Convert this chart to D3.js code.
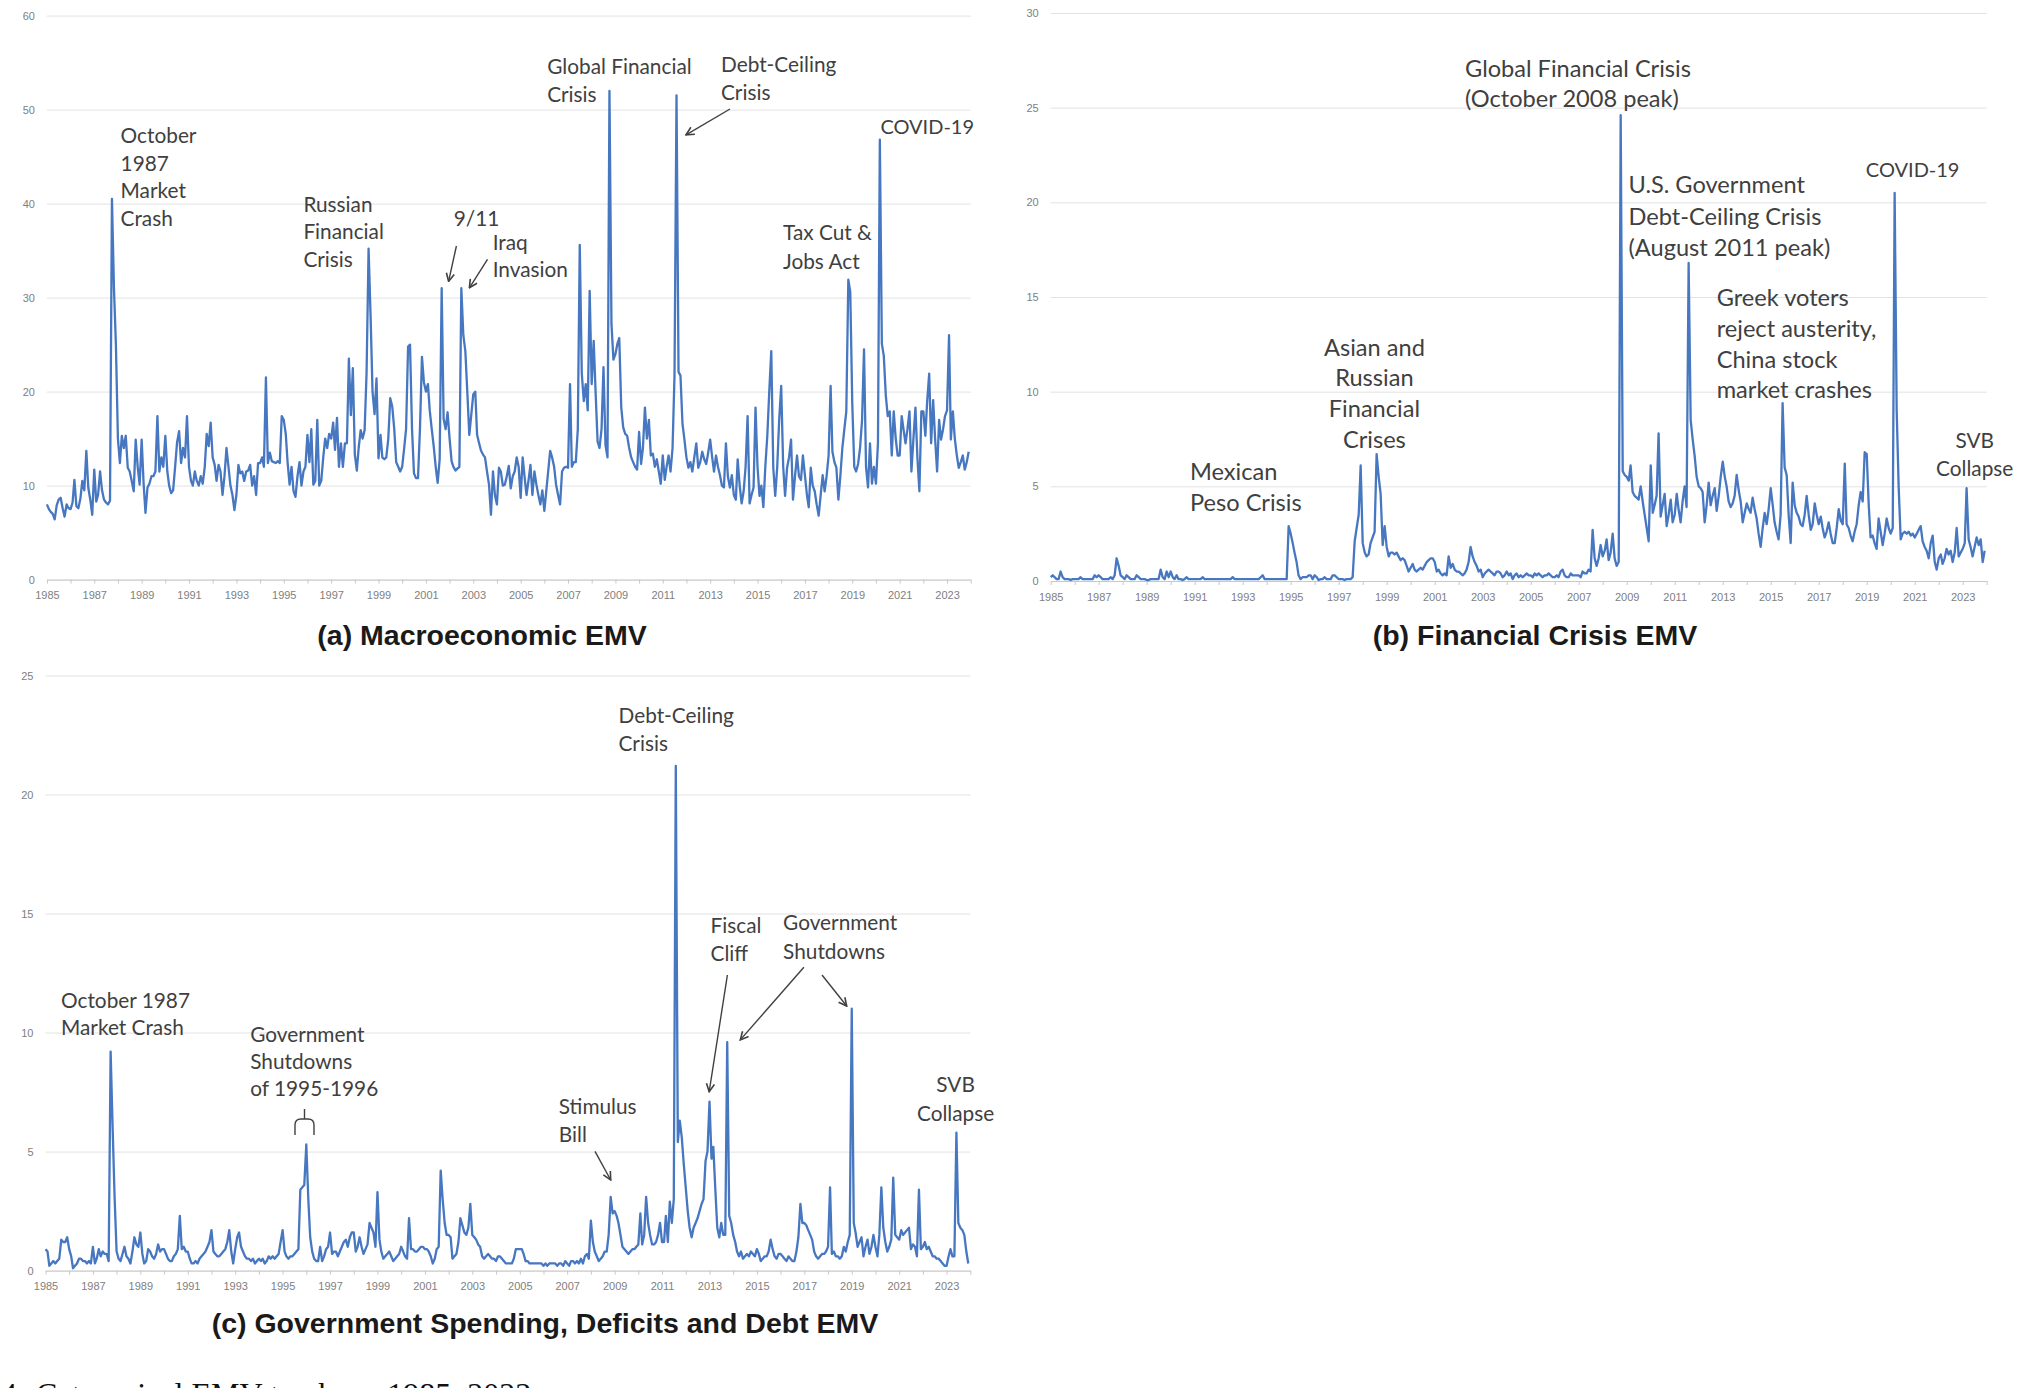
<!DOCTYPE html>
<html>
<head>
<meta charset="utf-8">
<script src="https://cdn.jsdelivr.net/npm/d3@7"></script>
<style>
  body { margin: 0; background: #fff; }
  svg { display: block; }
  .tick text { font-family: "Liberation Sans", Arial, sans-serif; font-size: 11px; fill: #808080; }
  .note { font-family: Lato, "Open Sans", sans-serif; fill: #404040; }
  .ptitle { font-family: "Liberation Sans", Arial, sans-serif; font-weight: bold; font-size: 28.5px; fill: #1a1a1a; }
</style>
</head>
<body>
<script>
// monthly EMV trackers, Jan 1985 .. Dec 2023, one row per year

const macroEmv = [
  8, 7.5, 7.2, 7, 6.4, 7.9, 8.5, 8.7, 7.6, 6.7, 8, 7.6,
  7.5, 8.2, 10.6, 7.8, 7.6, 8.6, 10.5, 9.5, 13.7, 9.8, 8.5, 6.9,
  11.7, 8.3, 9, 11.5, 9.5, 8.5, 8.2, 8, 8.4, 40.5, 31, 25,
  15, 12.4, 15.3, 14, 15.3, 11.9, 11.5, 10.5, 9.4, 14.9, 12, 10.1,
  14.9, 10.1, 7.1, 9.8, 10.2, 11, 11, 11.5, 17.4, 11.5, 13, 12,
  15.3, 11.5, 10, 9.2, 9.5, 12, 14.6, 15.8, 12.4, 14, 13, 17.4,
  12, 10.5, 10, 11.5, 10.5, 10, 11, 10.2, 12, 15.5, 14.2, 16.7,
  13, 12.2, 10.5, 12.2, 11.5, 9, 11, 14, 12, 10, 9, 7.4,
  9, 12.2, 11.3, 11.5, 10.5, 11.5, 11.6, 12.2, 10, 11, 9, 12.4,
  12.4, 13, 12, 21.5, 12.4, 13.5, 12.6, 12.5, 12.4, 12.6, 12.4, 17.4,
  17, 15.5, 12.5, 10.1, 12, 9.4, 8.8, 11, 12.5, 10, 11.5, 12,
  15.4, 12.5, 16, 10.1, 10.5, 17, 10, 10.5, 13, 15, 14, 15.5,
  15, 16.7, 13.8, 17.2, 12, 14.5, 12, 14.5, 14.5, 23.5, 17.5, 22.5,
  13.3, 11.6, 14, 15.9, 15, 15.9, 22, 35.2, 28, 20, 17.6, 21.4,
  12.9, 15.4, 13, 12.8, 13, 15, 19.3, 18.4, 16, 12.5, 12, 11.5,
  12, 14, 16, 24.8, 25, 16, 11.3, 10.8, 10.8, 16, 23.7, 21,
  20, 20.8, 18, 16, 14.2, 12, 10.3, 12.8, 31, 17.1, 16, 17.8,
  15, 12.6, 12, 11.6, 11.8, 12, 31, 26, 24.3, 20, 15.4, 17.5,
  19.7, 20, 15.4, 14.5, 13.7, 13.3, 13, 11.5, 10.1, 6.9, 11.5, 9,
  8, 11.9, 11.5, 10, 10.1, 11, 12.1, 9.7, 11, 11.5, 13, 12,
  8.7, 13, 11, 9, 10.5, 12.2, 9, 11.5, 10.1, 9, 8, 9.5,
  7.3, 9.5, 11.5, 13.7, 13, 12, 10.1, 9, 8, 11.5, 11.9, 12,
  11.9, 20.8, 12, 12.5, 12.5, 16, 35.6, 22, 19, 20.8, 18, 30.7,
  20.8, 25.4, 20, 14.7, 14, 16, 22.6, 14.3, 13, 52, 27.2, 23.4,
  24, 25.1, 25.7, 18.3, 16.2, 15.5, 15.3, 14, 13, 12.5, 12, 11.7,
  15.7, 12.3, 14, 18.3, 15, 17, 13.2, 13.4, 12, 12.8, 11.5, 10.2,
  13.2, 10.6, 12, 13.2, 11.5, 14, 21.7, 51.5, 22.1, 21.7, 16.6, 14.9,
  13, 11.9, 12.5, 11.5, 13, 14.5, 11.9, 12.5, 13.6, 12.8, 12.3, 13.5,
  14.9, 13, 11.5, 13.2, 12, 11.1, 10, 9.8, 14.5, 11, 9.8, 11.1,
  9, 8.5, 12.8, 10, 8.1, 9.4, 12, 17.4, 8.1, 9, 9.8, 18.3,
  12, 8.9, 10, 7.7, 12, 15.3, 20, 24.3, 11.9, 8.9, 12, 17,
  20.6, 12, 8.9, 11.9, 13, 14.9, 8.5, 11, 13.2, 11, 10.6, 13.2,
  11.1, 9, 7.7, 11.9, 10, 9.4, 8, 6.8, 9, 11.1, 9.4, 11,
  13.2, 20.6, 13.6, 12.5, 11.9, 8.5, 11, 14, 16, 17.9, 31.9, 30.6,
  18.7, 12, 11.5, 12.3, 14, 17, 24.5, 12, 9.8, 14.5, 10.2, 12,
  10.2, 14.5, 46.8, 25.1, 23.8, 19.6, 17.4, 17.9, 13.2, 17.9, 15, 13.2,
  13.2, 17.4, 16, 14.5, 16, 17.9, 11.5, 15, 18.3, 13, 9.4, 17.9,
  17.9, 15.3, 19, 21.9, 14.5, 19.1, 15, 11.5, 17, 14.9, 16, 17.4,
  18, 26, 14.9, 17.9, 15, 13.2, 11.9, 12.5, 13.2, 11.7, 12.5, 13.6
]

const financialEmv = [
  0.2, 0.3, 0.2, 0.1, 0.1, 0.5, 0.2, 0.1, 0.1, 0.1, 0.05, 0.1,
  0.1, 0.1, 0.1, 0.2, 0.1, 0.1, 0.1, 0.1, 0.1, 0.1, 0.3, 0.2,
  0.3, 0.2, 0.1, 0.1, 0.1, 0.1, 0.2, 0.1, 0.3, 1.2, 0.8, 0.3,
  0.2, 0.1, 0.3, 0.2, 0.1, 0.1, 0.1, 0.3, 0.2, 0.1, 0.1, 0.1,
  0.05, 0.05, 0.1, 0.1, 0.1, 0.1, 0.1, 0.6, 0.2, 0.1, 0.5, 0.2,
  0.5, 0.2, 0.1, 0.3, 0.1, 0.1, 0.05, 0.1, 0.2, 0.1, 0.1, 0.1,
  0.1, 0.1, 0.1, 0.1, 0.2, 0.1, 0.1, 0.1, 0.1, 0.1, 0.1, 0.1,
  0.1, 0.1, 0.1, 0.1, 0.1, 0.1, 0.1, 0.2, 0.1, 0.1, 0.1, 0.1,
  0.1, 0.1, 0.1, 0.1, 0.1, 0.1, 0.1, 0.1, 0.1, 0.2, 0.3, 0.1,
  0.1, 0.1, 0.1, 0.1, 0.1, 0.1, 0.1, 0.1, 0.1, 0.1, 0.1, 2.9,
  2.5, 2.0, 1.5, 1.0, 0.3, 0.1, 0.2, 0.2, 0.2, 0.3, 0.3, 0.1,
  0.3, 0.2, 0.05, 0.1, 0.1, 0.2, 0.1, 0.1, 0.1, 0.3, 0.3, 0.2,
  0.1, 0.1, 0.1, 0.05, 0.1, 0.1, 0.1, 0.2, 2.1, 2.8, 3.5, 6.1,
  2.0, 1.5, 1.3, 1.4, 2.0, 2.3, 2.6, 6.7, 5.5, 4.6, 1.9, 2.9,
  1.8, 1.3, 1.5, 1.5, 1.4, 1.5, 1.3, 1.1, 1.2, 1.1, 0.8, 0.5,
  0.7, 0.9, 0.6, 0.5, 0.6, 0.7, 0.6, 0.8, 1.0, 1.1, 1.2, 1.2,
  1.0, 0.5, 0.6, 0.4, 0.3, 0.4, 0.3, 1.3, 0.7, 0.9, 0.6, 0.5,
  0.5, 0.4, 0.3, 0.4, 0.6, 1.0, 1.8, 1.3, 1.0, 0.8, 0.5, 0.6,
  0.2, 0.4, 0.5, 0.6, 0.5, 0.4, 0.3, 0.5, 0.5, 0.4, 0.2, 0.3,
  0.5, 0.3, 0.4, 0.1, 0.3, 0.4, 0.2, 0.3, 0.2, 0.3, 0.4, 0.3,
  0.3, 0.2, 0.4, 0.3, 0.4, 0.3, 0.2, 0.3, 0.3, 0.4, 0.3, 0.2,
  0.2, 0.3, 0.2, 0.5, 0.6, 0.3, 0.2, 0.2, 0.4, 0.3, 0.3, 0.3,
  0.3, 0.2, 0.5, 0.4, 0.4, 0.6, 0.5, 2.7, 1.2, 0.8, 1.2, 1.9,
  1.3, 1.6, 2.2, 1.1, 1.5, 2.5, 1.2, 0.8, 1.0, 24.6, 5.8, 5.6,
  5.5, 5.3, 6.1, 4.7, 4.5, 4.4, 4.3, 5.0, 4.2, 3.5, 2.8, 2.1,
  6.1, 3.6, 4.0, 4.5, 7.8, 3.4, 4.0, 4.6, 2.9, 3.5, 4.3, 3.1,
  3.5, 4.6, 3.8, 3.1, 4.2, 5.0, 3.9, 16.8, 8.5, 7.5, 6.6, 5.5,
  5.0, 4.9, 4.7, 3.1, 4.0, 5.2, 4.0, 4.5, 4.9, 3.7, 4.5, 5.5,
  6.3, 5.5, 5.0, 4.2, 3.9, 4.1, 4.5, 5.6, 4.8, 4.2, 3.1, 3.6,
  4.1, 3.8, 3.6, 4.4, 3.8, 3.3, 2.5, 1.8, 2.8, 3.6, 3.0, 3.8,
  4.9, 4.0, 3.1, 2.6, 2.2, 3.5, 9.4, 6.0, 5.6, 3.5, 2.0, 5.2,
  4.0, 3.6, 3.4, 3.0, 2.9, 3.5, 4.5, 3.5, 2.7, 3.0, 4.1, 3.5,
  3.0, 3.4, 2.8, 2.3, 2.6, 3.1, 2.5, 2.0, 2.0, 2.8, 3.8, 3.2,
  3.0, 6.2, 3.0, 2.8, 2.4, 2.1, 2.6, 3.0, 4.0, 4.7, 4.2, 6.8,
  6.7, 4.0, 2.3, 2.4, 2.0, 1.7, 3.3, 2.6, 1.9, 2.5, 3.3, 2.8,
  2.5, 2.8, 20.5, 9.0, 5.0, 2.2, 2.5, 2.6, 2.5, 2.6, 2.4, 2.5,
  2.3, 2.5, 2.7, 2.9, 2.1, 1.8, 1.6, 1.2, 2.0, 2.4, 1.0, 0.6,
  1.2, 1.4, 0.9, 1.2, 1.7, 1.4, 1.6, 1.0, 1.5, 2.8, 1.3, 1.5,
  1.7, 2.0, 4.9, 2.2, 1.8, 1.3, 1.8, 2.3, 1.9, 2.2, 1.0, 1.6
]

const fiscalEmv = [
  0.9, 0.8, 0.2, 0.3, 0.4, 0.3, 0.4, 0.5, 1.3, 1.2, 1.2, 1.4,
  0.9, 0.6, 0.1, 0.2, 0.3, 0.5, 0.5, 0.4, 0.4, 0.3, 0.4, 0.3,
  1.0, 0.3, 0.5, 0.9, 0.6, 0.8, 0.7, 0.7, 0.4, 9.2, 6.0, 3.1,
  0.8, 0.5, 0.4, 0.7, 1.0, 0.6, 0.5, 0.3, 0.8, 1.4, 1.1, 1.0,
  1.6, 0.7, 0.3, 0.4, 0.9, 0.8, 0.6, 0.5, 0.7, 1.1, 0.8, 0.9,
  0.9, 0.7, 0.5, 0.4, 0.4, 0.6, 0.7, 0.9, 2.3, 0.9, 1.0, 0.8,
  0.8, 0.5, 0.3, 0.3, 0.4, 0.3, 0.5, 0.6, 0.7, 0.8, 1.0, 1.2,
  1.7, 0.8, 0.7, 0.6, 0.6, 0.7, 0.8, 0.9, 1.2, 1.7, 0.8, 0.3,
  0.9, 1.4, 1.6, 1.0, 0.8, 0.6, 0.5, 0.5, 0.4, 0.5, 0.3, 0.4,
  0.5, 0.4, 0.5, 0.3, 0.4, 0.6, 0.5, 0.6, 0.5, 0.6, 0.7, 1.2,
  1.7, 0.8, 0.6, 0.5, 0.6, 0.6, 0.7, 0.8, 0.9, 3.4, 3.5, 3.6,
  5.3, 3.0, 1.4, 0.8, 0.5, 0.4, 0.4, 1.0, 0.4, 0.6, 0.9, 1.0,
  1.6, 0.7, 0.8, 0.8, 0.6, 0.8, 1.0, 1.2, 1.3, 1.0, 1.4, 1.6,
  1.6, 0.8, 1.0, 1.4, 1.0, 0.7, 0.9, 1.1, 2.0, 1.8, 1.6, 1.0,
  3.3, 1.3, 0.8, 0.5, 0.6, 0.7, 0.8, 0.6, 0.4, 0.5, 0.6, 0.7,
  1.0, 0.8, 0.6, 0.5, 2.2, 0.9, 0.9, 0.8, 0.8, 0.9, 1.0, 1.0,
  0.9, 0.9, 0.8, 0.6, 0.3, 0.5, 0.9, 1.0, 4.2, 3.0, 2.0, 1.5,
  1.5, 1.4, 0.5, 0.6, 0.7, 1.2, 2.2, 1.9, 1.6, 1.5, 1.8, 2.8,
  1.5, 1.4, 1.3, 1.1, 1.0, 0.6, 0.5, 0.6, 0.7, 0.6, 0.5, 0.5,
  0.4, 0.6, 0.6, 0.5, 0.4, 0.3, 0.3, 0.3, 0.3, 0.5, 0.9, 0.9,
  0.9, 0.9, 0.7, 0.4, 0.4, 0.3, 0.3, 0.3, 0.3, 0.3, 0.3, 0.3,
  0.2, 0.3, 0.2, 0.3, 0.3, 0.3, 0.3, 0.2, 0.3, 0.3, 0.2, 0.4,
  0.3, 0.2, 0.4, 0.4, 0.3, 0.4, 0.3, 0.5, 0.3, 0.6, 0.7, 0.5,
  2.1, 1.2, 0.8, 0.6, 0.4, 0.5, 0.6, 0.8, 0.8, 1.5, 3.1, 2.4,
  2.5, 2.3, 2.0, 1.5, 1.0, 0.9, 0.8, 0.7, 0.8, 0.9, 0.9, 1.0,
  1.1, 2.4, 1.1, 1.5, 3.1, 2.0, 1.5, 1.1, 1.1, 1.2, 1.5, 2.0,
  1.2, 1.2, 2.3, 1.2, 2.9, 2.0, 3.0, 21.2, 5.4, 6.3, 5.6, 4.5,
  3.5, 2.5, 1.8, 1.4, 1.8, 2.0, 2.2, 2.5, 2.8, 3.0, 4.6, 5.0,
  7.1, 4.7, 5.2, 3.4, 1.8, 1.4, 2.0, 1.5, 1.5, 9.6, 2.3, 2.0,
  1.5, 1.2, 0.8, 0.6, 0.8, 0.5, 0.6, 0.7, 0.6, 0.8, 0.7, 0.6,
  0.9, 0.7, 0.4, 0.5, 0.6, 0.6, 0.8, 1.3, 0.9, 0.6, 0.5, 0.7,
  0.7, 0.6, 0.5, 0.4, 0.6, 0.5, 0.4, 0.4, 0.8, 1.4, 2.8, 2.0,
  2.0, 1.9, 1.7, 1.5, 1.3, 0.8, 0.6, 0.5, 0.6, 0.7, 0.7, 0.8,
  1.0, 3.5, 0.7, 0.8, 0.6, 0.6, 0.5, 0.6, 1.0, 0.8, 1.2, 1.5,
  11.0, 2.0, 1.6, 1.0, 1.2, 1.4, 0.6, 1.0, 1.3, 0.7, 1.0, 1.5,
  1.0, 0.6, 1.5, 3.5, 1.8, 1.2, 0.8, 1.0, 1.3, 3.9, 1.5, 1.4,
  1.3, 1.7, 1.5, 1.6, 1.7, 1.8, 0.9, 1.1, 1.0, 0.6, 3.4, 0.9,
  1.0, 1.2, 0.9, 1.0, 0.8, 0.6, 0.6, 0.5, 0.5, 0.4, 0.3, 0.2,
  0.2, 0.6, 0.9, 0.6, 0.6, 5.8, 2.0, 1.8, 1.7, 1.5, 0.8, 0.3
]

const macroTicks = [0, 10, 20, 30, 40, 50, 60]
const financialTicks = [0, 5, 10, 15, 20, 25, 30]
const fiscalTicks = [0, 5, 10, 15, 20, 25]

const titles = ["(a) Macroeconomic EMV", "(b) Financial Crisis EMV", "(c) Government Spending, Deficits and Debt EMV"]

const width = 2033, height = 1388
const months = d3.range(macroEmv.length).map(i => new Date(1985, i, 1))
const start = new Date(1985, 0, 1), end = new Date(2024, 0, 1)

const svg = d3.select("body").append("svg")
    .attr("width", width)
    .attr("height", height)

const panels = [
    { values: macroEmv, ticks: macroTicks, title: titles[0], xr: [46.9, 970.7], yr: [579.6, 15.6], tx: 482, ty: 645 },
    { values: financialEmv, ticks: financialTicks, title: titles[1], xr: [1050.7, 1986.7], yr: [581, 13], tx: 1535, ty: 645 },
    { values: fiscalEmv, ticks: fiscalTicks, title: titles[2], xr: [45.5, 970.3], yr: [1270.6, 675.5], tx: 545, ty: 1333 }
]

panels.forEach(p => {
    const x = d3.scaleTime().domain([start, end]).range(p.xr)
    const y = d3.scaleLinear().domain([0, d3.max(p.ticks)]).range(p.yr)
    const g = svg.append("g")

    // gridlines + y labels
    g.append("g")
        .attr("transform", `translate(${p.xr[0]},0)`)
        .call(d3.axisLeft(y).tickValues(p.ticks).tickSize(-(p.xr[1] - p.xr[0])).tickPadding(12))
        .call(a => a.select(".domain").remove())
        .call(a => a.selectAll(".tick line").attr("stroke", "#e2e2e2"))

    // x axis, tick every year, label every other year
    g.append("g")
        .attr("transform", `translate(0,${p.yr[0]})`)
        .call(d3.axisBottom(x)
            .ticks(d3.timeYear.every(1))
            .tickSize(4)
            .tickSizeOuter(0)
            .tickPadding(8)
            .tickFormat(d => d.getFullYear() % 2 ? d.getFullYear() : ""))
        .call(a => a.select(".domain").attr("stroke", "#c8c8c8"))
        .call(a => a.selectAll(".tick line").attr("stroke", "#c8c8c8"))

    const line = d3.line()
        .x((d, i) => x(months[i]))
        .y(d => y(d))

    g.append("path")
        .datum(p.values)
        .attr("d", line)
        .attr("fill", "none")
        .attr("stroke", "#4677c0")
        .attr("stroke-width", 2.3)
        .attr("stroke-linejoin", "round")

    g.append("text")
        .attr("class", "ptitle")
        .attr("x", p.tx)
        .attr("y", p.ty)
        .attr("text-anchor", "middle")
        .text(p.title)
})

// annotations
const notes = [
    { t: ["October", "1987", "Market", "Crash"], x: 120.6, y: 143, lh: 27.6, s: 20.8 },
    { t: ["Russian", "Financial", "Crisis"], x: 303.4, y: 212, lh: 27.4, s: 20.8 },
    { t: ["9/11"], x: 453.8, y: 226, lh: 27, s: 20.8 },
    { t: ["Iraq", "Invasion"], x: 492.7, y: 249.5, lh: 27.2, s: 20.8 },
    { t: ["Global Financial", "Crisis"], x: 547.2, y: 74.4, lh: 27.2, s: 20.8 },
    { t: ["Debt-Ceiling", "Crisis"], x: 721, y: 71.8, lh: 28.6, s: 20.8 },
    { t: ["COVID-19"], x: 880.4, y: 134, lh: 27, s: 20 },
    { t: ["Tax Cut &", "Jobs Act"], x: 783, y: 240.4, lh: 28.6, s: 20.8 },

    { t: ["Global Financial Crisis", "(October 2008 peak)"], x: 1465, y: 76.7, lh: 29.8, s: 23.6 },
    { t: ["U.S. Government", "Debt-Ceiling Crisis", "(August 2011 peak)"], x: 1628.5, y: 193.4, lh: 31.1, s: 23.6 },
    { t: ["COVID-19"], x: 1865.8, y: 177, lh: 27, s: 20 },
    { t: ["Greek voters", "reject austerity,", "China stock", "market crashes"], x: 1716.7, y: 306.2, lh: 30.7, s: 23.6 },
    { t: ["SVB", "Collapse"], x: 1974.7, y: 447.8, lh: 28.6, s: 20.8, a: "middle" },
    { t: ["Mexican", "Peso Crisis"], x: 1190, y: 480, lh: 31, s: 23.6 },
    { t: ["Asian and", "Russian", "Financial", "Crises"], x: 1374.4, y: 355.5, lh: 30.7, s: 23.6, a: "middle" },

    { t: ["October 1987", "Market Crash"], x: 61, y: 1008, lh: 27.2, s: 20.8 },
    { t: ["Government", "Shutdowns", "of 1995-1996"], x: 250.2, y: 1041.7, lh: 27.2, s: 20.8 },
    { t: ["Stimulus", "Bill"], x: 558.8, y: 1114.3, lh: 27.2, s: 20.8 },
    { t: ["Debt-Ceiling", "Crisis"], x: 618.5, y: 722.7, lh: 28.5, s: 20.8 },
    { t: ["Fiscal", "Cliff"], x: 710.5, y: 932.8, lh: 28.5, s: 20.8 },
    { t: ["Government", "Shutdowns"], x: 783.1, y: 930.2, lh: 28.5, s: 20.8 },
    { t: ["SVB", "Collapse"], x: 955.6, y: 1092.3, lh: 28.5, s: 20.8, a: "middle" }
]

notes.forEach(n => {
    const txt = svg.append("text")
        .attr("class", "note")
        .attr("font-size", n.s)
        .attr("text-anchor", n.a || "start")
    n.t.forEach((line, i) => {
        txt.append("tspan").attr("x", n.x).attr("y", n.y + i * n.lh).text(line)
    })
})

svg.append("defs").append("marker")
    .attr("id", "arrow")
    .attr("viewBox", "0 0 10 10")
    .attr("refX", 9).attr("refY", 5)
    .attr("markerWidth", 10).attr("markerHeight", 10)
    .attr("markerUnits", "userSpaceOnUse")
    .attr("orient", "auto")
    .append("path")
    .attr("d", "M1,1 L9,5 L1,9")
    .attr("fill", "none")
    .attr("stroke", "#404040")
    .attr("stroke-width", 1.6)

const arrows = [
    [456.4, 246, 448.6, 281.4],
    [487.5, 259.3, 469.4, 287.8],
    [730, 109, 686, 134.8],
    [595, 1151.4, 610.7, 1180],
    [727.4, 975, 709.2, 1091.7],
    [803.9, 967.3, 740.3, 1039.9],
    [822, 975, 846.7, 1006]
]

svg.selectAll("line.arrow")
    .data(arrows)
    .join("line")
    .attr("class", "arrow")
    .attr("x1", d => d[0]).attr("y1", d => d[1])
    .attr("x2", d => d[2]).attr("y2", d => d[3])
    .attr("stroke", "#404040")
    .attr("stroke-width", 1.4)
    .attr("marker-end", "url(#arrow)")

// bracket over the 1995-96 shutdowns
svg.append("path")
    .attr("d", "M295,1135 L295,1125 Q295,1119 301,1119 L304.5,1119 L304.5,1109 M304.5,1119 L308,1119 Q314,1119 314,1125 L314,1135")
    .attr("fill", "none")
    .attr("stroke", "#404040")
    .attr("stroke-width", 1.4)

// figure caption, cut off by the bottom edge as in the source page
svg.append("text")
    .attr("x", 1)
    .attr("y", 1405)
    .attr("font-family", "'Liberation Serif', serif")
    .attr("font-size", 32)
    .attr("fill", "#111")
    .text("4.")
svg.append("text")
    .attr("x", 36)
    .attr("y", 1405)
    .attr("font-family", "'Liberation Serif', serif")
    .attr("font-size", 32)
    .attr("fill", "#111")
    .text("Categorical EMV trackers, 1985–2023")
</script>
</body>
</html>
